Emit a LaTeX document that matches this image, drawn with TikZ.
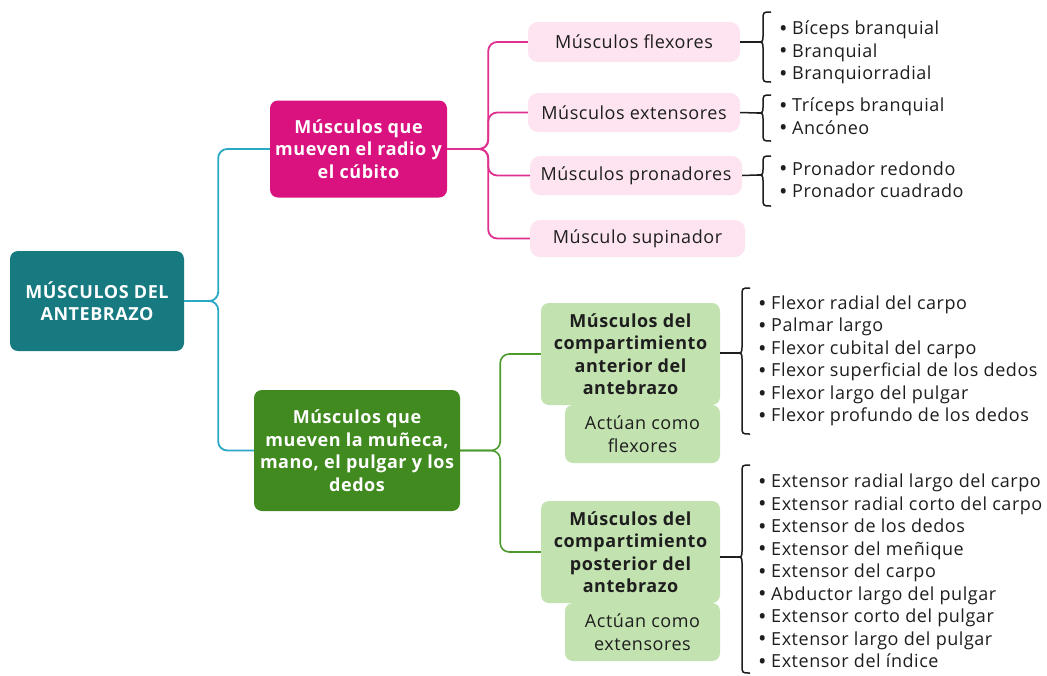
\documentclass[tikz,border=0pt]{standalone}
\usepackage{fontspec}
\setmainfont[LetterSpace=3]{Open Sans}
\definecolor{rootc}{HTML}{167A80}
\definecolor{pinkc}{HTML}{D9127F}
\definecolor{pinkl}{HTML}{FDE4F0}
\definecolor{greenc}{HTML}{408A1F}
\definecolor{greenl}{HTML}{C2E2B0}
\definecolor{tealline}{HTML}{2AA9C4}
\definecolor{pinkline}{HTML}{E0308F}
\definecolor{greenline}{HTML}{4C9A2C}
\definecolor{txt}{HTML}{1E1E1E}
\newcommand\fs{\fontsize{18}{22.5}\selectfont}
\newcommand\itm{\makebox[13pt][l]{\raisebox{-1.6pt}{\scalebox{1.25}{\textbullet}}}}
\newcommand\brc[5]{\draw[bracestyle] (#5+8,#3) .. controls (#5,#3) .. (#5,#3+8) -- (#5,#2-7) .. controls (#5,#2) .. (#1,#2) .. controls (#5,#2) .. (#5,#2+7) -- (#5,#4-8) .. controls (#5,#4) .. (#5+8,#4);}
\begin{document}
\begin{tikzpicture}[x=1pt,y=-1pt,
  bigbox/.style={rectangle, rounded corners=8pt, align=center, inner sep=0pt, font=\fs\bfseries, text=white},
  childbox/.style={rectangle, rounded corners=10pt, align=center, inner sep=0pt, font=\fs, fill=pinkl, text=txt},
  gbox/.style={rectangle, rounded corners=8pt, align=center, inner sep=0pt, fill=greenl, text=txt},
  listnode/.style={anchor=west, align=left, inner sep=0pt, font=\fs, text=txt},
  tline/.style={draw=tealline, line width=1.8pt, rounded corners=9pt},
  pline/.style={draw=pinkline, line width=1.8pt, rounded corners=9pt},
  gline/.style={draw=greenline, line width=1.6pt, rounded corners=9pt},
  bracestyle/.style={draw=txt, line width=1.5pt},
  bline/.style={draw=txt, line width=1.5pt}]
\useasboundingbox[fill=white] (0,0) rectangle (1047,675);

% root
\node[bigbox, fill=rootc, minimum width=174pt, minimum height=100pt] (root) at (97,301) {MÚSCULOS DEL\\ANTEBRAZO};

% level 1
\node[bigbox, fill=pinkc, minimum width=177pt, minimum height=97pt] (pink) at (358.5,149) {Músculos que\\mueven el radio y\\el cúbito};
\node[bigbox, fill=greenc, minimum width=206pt, minimum height=121pt] (green) at (357,450.5) {Músculos que\\mueven la muñeca,\\mano, el pulgar y los\\dedos};

\path (root.east) ++(34,0) coordinate (tj);
\draw[tline] (root.east) -- (tj) |- (pink.west);
\draw[tline] (root.east) -- (tj) |- (green.west);

% pink children
\node[childbox, minimum width=212pt, minimum height=40pt] (flex) at (634,42) {Músculos flexores};
\node[childbox, minimum width=212pt, minimum height=39pt] (ext) at (634,112.5) {Músculos extensores};
\node[childbox, minimum width=212pt, minimum height=39pt] (pron) at (636,175.5) {Músculos pronadores};
\node[childbox, minimum width=215pt, minimum height=37pt] (sup) at (637.5,238.5) {Músculo supinador};

\path (pink.east) ++(41,0) coordinate (pj);
\draw[pline] (pink.east) -- (pj) |- (flex.west);
\draw[pline] (pink.east) -- (pj) |- (ext.west);
\draw[pline] (pink.east) -- (pj) |- (pron.west);
\draw[pline] (pink.east) -- (pj) |- (sup.west);

% green children
\node[gbox, font=\fs\bfseries, minimum width=179pt, minimum height=102pt] (ant) at (630.5,354) {Músculos del\\compartimiento\\anterior del\\antebrazo};
\node[gbox, font=\fs, minimum width=155pt, minimum height=58pt] (antsub) at (642.5,434) {Actúan como\\flexores};
\node[gbox, font=\fs\bfseries, minimum width=179pt, minimum height=102pt] (post) at (630.5,552) {Músculos del\\compartimiento\\posterior del\\antebrazo};
\node[gbox, font=\fs, minimum width=155pt, minimum height=58pt] (postsub) at (642.5,632) {Actúan como\\extensores};

\path (green.east) ++(40,0) coordinate (gj);
\draw[gline] (green.east) -- (gj) |- (ant.west);
\draw[gline] (green.east) -- (gj) |- (post.west);

% lists
\node[listnode] (l1) at (779,52.5) {\itm Bíceps branquial\\\itm Branquial\\\itm Branquiorradial};
\node[listnode] (l2) at (779,117) {\itm Tríceps branquial\\\itm Ancóneo};
\node[listnode] (l3) at (779,180.5) {\itm Pronador redondo\\\itm Pronador cuadrado};
\node[listnode] (l4) at (758,361) {\itm Flexor radial del carpo\\\itm Palmar largo\\\itm Flexor cubital del carpo\\\itm Flexor superficial de los dedos\\\itm Flexor largo del pulgar\\\itm Flexor profundo de los dedos};
\node[listnode] (l5) at (758,571.5) {\itm Extensor radial largo del carpo\\\itm Extensor radial corto del carpo\\\itm Extensor de los dedos\\\itm Extensor del meñique\\\itm Extensor del carpo\\\itm Abductor largo del pulgar\\\itm Extensor corto del pulgar\\\itm Extensor largo del pulgar\\\itm Extensor del índice};

% braces
\coordinate (b1) at (757,42);
\coordinate (b2) at (757,113);
\coordinate (b3) at (757,175);
\coordinate (b4) at (736,353);
\coordinate (b5) at (736,557);
\draw[bline] (flex.east) -- (b1);
\draw[bline] (ext.east) -- (b2);
\draw[bline] (pron.east) -- (b3);
\draw[bline] (ant.east |- b4) -- (b4);
\draw[bline] (post.east |- b5) -- (b5);
\brc{757}{42}{12}{82}{763}
\brc{757}{113}{95}{141}{763}
\brc{757}{175}{156}{206}{763}
\brc{736}{353}{288}{434}{742}
\brc{736}{557}{465}{673}{742}
\end{tikzpicture}
\end{document}
